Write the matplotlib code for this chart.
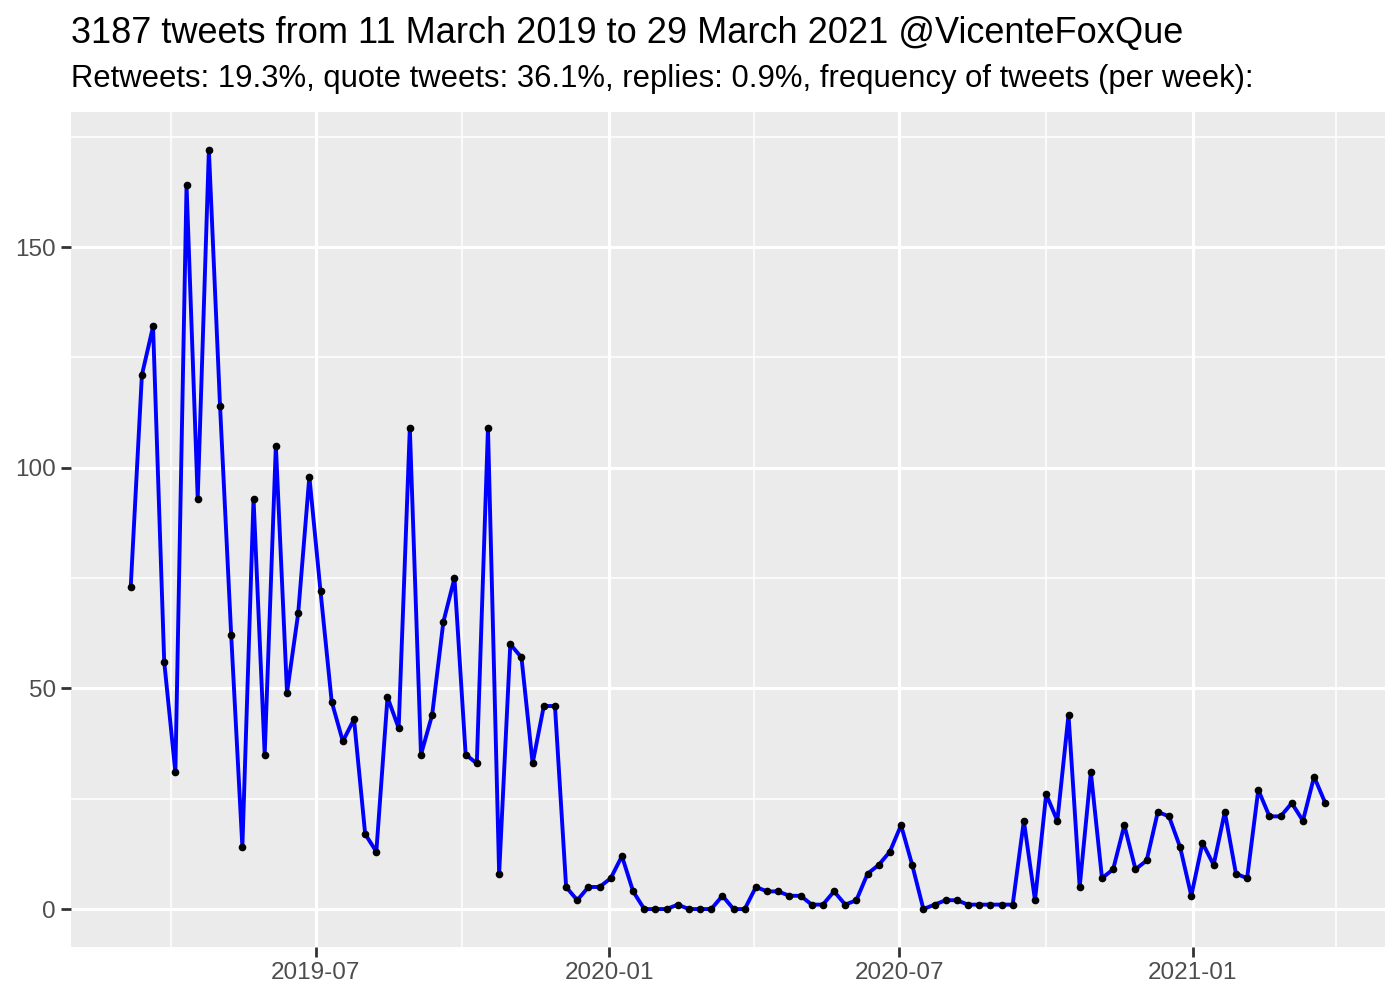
import matplotlib
matplotlib.use("Agg")
import matplotlib.pyplot as plt
import matplotlib.dates as mdates
import pandas as pd
import numpy as np

plt.rcParams['font.family'] = ['Liberation Sans', 'DejaVu Sans']

title = "3187 tweets from 11 March 2019 to 29 March 2021 @VicenteFoxQue"
subtitle = "Retweets: 19.3%, quote tweets: 36.1%, replies: 0.9%, frequency of tweets (per week):"

first_week = "2019-03-07"
tweets_per_week = [
    73, 121, 132, 56, 31, 164, 93, 172, 114, 62,
    14, 93, 35, 105, 49, 67, 98, 72, 47, 38,
    43, 17, 13, 48, 41, 109, 35, 44, 65, 75,
    35, 33, 109, 8, 60, 57, 33, 46, 46, 5,
    2, 5, 5, 7, 12, 4, 0, 0, 0, 1,
    0, 0, 0, 3, 0, 0, 5, 4, 4, 3,
    3, 1, 1, 4, 1, 2, 8, 10, 13, 19,
    10, 0, 1, 2, 2, 1, 1, 1, 1, 1,
    20, 2, 26, 20, 44, 5, 31, 7, 9, 19,
    9, 11, 22, 21, 14, 3, 15, 10, 22, 8,
    7, 27, 21, 21, 24, 20, 30, 24,
]
major_ticks = ["2019-07-01", "2020-01-01", "2020-07-01", "2021-01-01"]
minor_ticks = ["2019-04-01", "2019-10-01", "2020-04-01", "2020-10-01", "2021-04-01"]
y_major = [0, 50, 100, 150]
y_minor = [25, 75, 125, 175]

weeks = pd.date_range(first_week, periods=len(tweets_per_week), freq="7D")

fig = plt.figure(figsize=(14, 10), dpi=100)
ax = fig.add_axes([71/1400, 1-947/1000, (1385-71)/1400, (947-112)/1000])
ax.set_facecolor("#EBEBEB")

ax.plot(weeks, tweets_per_week, color="blue", linewidth=2.8, zorder=3,
        marker="o", markersize=4.5, markerfacecolor="black", markeredgecolor="black")

# limits with 5% expansion
x0 = mdates.date2num(weeks[0]); x1 = mdates.date2num(weeks[-1])
dx = (x1 - x0) * 0.05
ax.set_xlim(x0 - dx, x1 + dx)
ymax = max(tweets_per_week); ymin = min(tweets_per_week)
dy = (ymax - ymin) * 0.05
ax.set_ylim(ymin - dy, ymax + dy)

ax.set_xticks([mdates.date2num(pd.Timestamp(d)) for d in major_ticks])
ax.set_xticklabels([pd.Timestamp(d).strftime("%Y-%m") for d in major_ticks])
ax.set_xticks([mdates.date2num(pd.Timestamp(d)) for d in minor_ticks], minor=True)
ax.set_yticks(y_major)
ax.set_yticks(y_minor, minor=True)

ax.grid(which="major", color="white", linewidth=2.3, zorder=0)
ax.grid(which="minor", color="white", linewidth=1.1, zorder=0)
ax.set_axisbelow(True)
for s in ax.spines.values():
    s.set_visible(False)

ax.tick_params(which="major", length=7, width=2, color="#333333",
               labelsize=17.5, labelcolor="#4D4D4D", pad=4)
ax.tick_params(which="minor", length=0)

fig.text(71/1400, 1-43/1000, title, fontsize=26, color="black", ha="left", va="baseline")
fig.text(71/1400, 1-87/1000, subtitle, fontsize=22.3, color="black", ha="left", va="baseline")

fig.savefig("out.png", dpi=100, facecolor="white")
